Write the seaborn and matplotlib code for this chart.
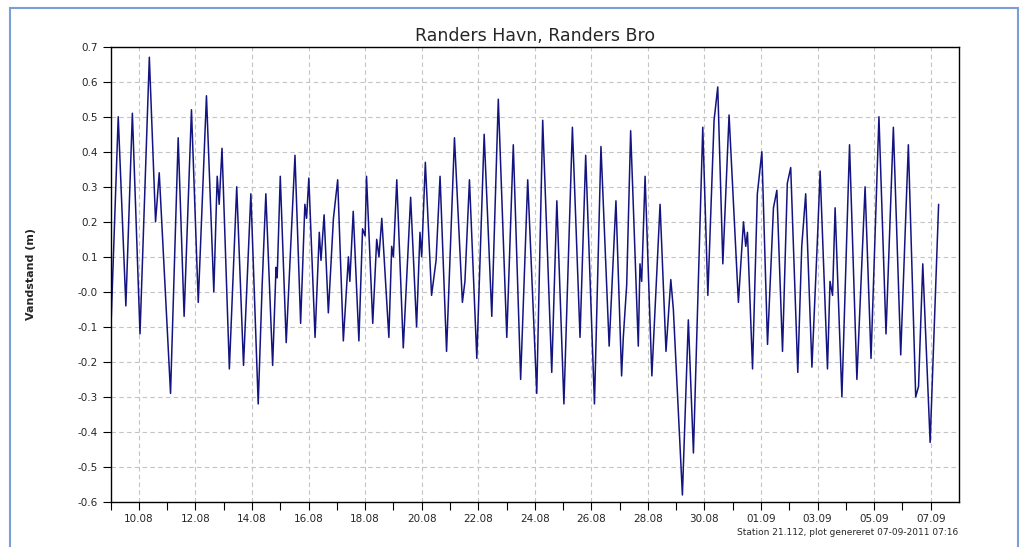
import pandas as pd
import matplotlib
matplotlib.use("Agg")
import matplotlib.pyplot as plt
import matplotlib.patches as mpatches
import seaborn as sns

# ---------------------------------------------
# Data (days after 09.08.2011 00:00, water level in m)
# ---------------------------------------------
start = pd.Timestamp("2011-08-09 00:00")

days = [0.00, 0.27, 0.54, 0.77, 1.04, 1.37, 1.59, 1.72, 2.12, 2.39, 2.60, 2.86, 3.10, 3.39,
        3.65, 3.77, 3.84, 3.94, 4.20, 4.46, 4.70, 4.96, 5.22, 5.36, 5.49, 5.73, 5.85, 5.89,
        6.00, 6.21, 6.52, 6.72, 6.87, 6.93, 7.01, 7.23, 7.38, 7.44,
        7.55, 7.70, 7.88, 8.03, 8.23, 8.41, 8.46, 8.58, 8.78, 8.91, 9.00, 9.05, 9.27, 9.41,
        9.49, 9.59, 9.84, 9.94, 10.00, 10.12, 10.35, 10.61, 10.82, 10.94, 11.00, 11.13, 11.35,
        11.51, 11.65, 11.88, 12.16, 12.44, 12.53, 12.69, 12.95, 13.21, 13.48, 13.71, 14.01,
        14.24, 14.50, 14.75, 15.07, 15.28,
        15.60, 15.78, 16.03, 16.33, 16.60, 16.80, 17.11, 17.34, 17.63, 17.87, 18.07, 18.13,
        18.25, 18.39, 18.66, 18.72, 18.78, 18.90, 19.14,
        19.43, 19.64, 19.81, 19.90, 20.22, 20.43, 20.61, 20.94, 21.12, 21.34, 21.47, 21.65,
        21.87, 22.20, 22.38, 22.46, 22.52, 22.70, 22.87, 23.03,
        23.23, 23.44, 23.56, 23.76, 23.93, 24.05, 24.30, 24.44, 24.58, 24.80, 25.00, 25.09,
        25.35, 25.44, 25.53, 25.62, 25.86, 26.13, 26.39, 26.68,
        26.89, 27.17, 27.42, 27.68, 27.94, 28.21, 28.47, 28.57, 28.72, 28.98, 29.28]

level = [-0.13, 0.50, -0.04, 0.51, -0.12, 0.67, 0.20, 0.34, -0.29, 0.44, -0.07, 0.52, -0.03, 0.56,
         0.00, 0.33, 0.25, 0.41, -0.22, 0.30, -0.21, 0.28, -0.32, 0.02, 0.28, -0.21, 0.07, 0.04,
         0.33, -0.145, 0.39, -0.09, 0.25, 0.21, 0.325, -0.13, 0.17, 0.09,
         0.22, -0.06, 0.21, 0.32, -0.14, 0.10, 0.03, 0.23, -0.14, 0.18, 0.16, 0.33, -0.09, 0.15,
         0.10, 0.21, -0.13, 0.13, 0.10, 0.32, -0.16, 0.27, -0.10, 0.17, 0.10, 0.37, -0.01,
         0.09, 0.33, -0.17, 0.44, -0.03, 0.03, 0.32, -0.19, 0.45, -0.07, 0.55, -0.13,
         0.42, -0.25, 0.32, -0.29, 0.49,
         -0.23, 0.26, -0.32, 0.47, -0.13, 0.39, -0.32, 0.415, -0.155, 0.26, -0.24, -0.13,
         0.02, 0.46, -0.155, 0.08, 0.03, 0.33, -0.24,
         0.25, -0.17, 0.035, -0.05, -0.58, -0.08, -0.46, 0.47, -0.01, 0.49, 0.585, 0.08,
         0.505, -0.03, 0.20, 0.13, 0.17, -0.22, 0.28, 0.40,
         -0.15, 0.24, 0.29, -0.17, 0.31, 0.355, -0.23, 0.13, 0.28, -0.215, 0.16, 0.345,
         -0.22, 0.03, -0.01, 0.24, -0.30, 0.42, -0.25, 0.30,
         -0.19, 0.50, -0.12, 0.47, -0.18, 0.42, -0.30, -0.27, 0.08, -0.43, 0.25]

ytick_values = [-0.6, -0.5, -0.4, -0.3, -0.2, -0.1, 0.0, 0.1, 0.2, 0.3, 0.4, 0.5, 0.6, 0.7]
ytick_labels = ["-0.6", "-0.5", "-0.4", "-0.3", "-0.2", "-0.1", "-0.0",
                "0.1", "0.2", "0.3", "0.4", "0.5", "0.6", "0.7"]

title = "Randers Havn, Randers Bro"
ylabel = "Vandstand (m)"
footer = "Station 21.112, plot genereret 07-09-2011 07:16"

df = pd.DataFrame({"time": start + pd.to_timedelta(days, unit="D"), "level": level})

# ---------------------------------------------
# Plot
# ---------------------------------------------
sns.set_style("white")
plt.rcParams['font.family'] = ['DejaVu Sans']

fig = plt.figure(figsize=(10.24, 5.47), dpi=100)
ax = fig.add_axes([0.108, 0.0823, 0.8285, 0.8323])

sns.lineplot(data=df, x="time", y="level", ax=ax, color="#141480", linewidth=1.1)

ax.set_xlim(start, start + pd.Timedelta(days=30))
ax.set_ylim(-0.6, 0.7)

major = pd.date_range("2011-08-10", "2011-09-07", freq="2D")
minor = pd.date_range("2011-08-09", "2011-09-07", freq="D")
ax.set_xticks(major)
ax.set_xticklabels([d.strftime("%d.%m") for d in major], fontsize=7.5)
ax.set_xticks(minor, minor=True)
ax.set_yticks(ytick_values)
ax.set_yticklabels(ytick_labels, fontsize=7.5)

ax.tick_params(axis="both", which="both", direction="out", length=6, width=0.8,
               color="black", pad=3, bottom=True, left=True)
ax.grid(True, which="major", color="#c4c4c4", linestyle=(0, (4, 3)), linewidth=0.8)

for s in ax.spines.values():
    s.set_color("black")
    s.set_linewidth(1.0)

ax.set_xlabel("")
ax.set_ylabel(ylabel, fontsize=8, fontweight="bold", labelpad=30)
ax.set_title(title, fontsize=12.5, pad=4)

fig.text(0.936, 0.018, footer, ha="right", va="bottom", fontsize=6.5)

# light blue frame round the chart
frame = mpatches.Rectangle((10 / 1024, -0.05), 1008 / 1024, 1.05 - 8 / 547,
                           transform=fig.transFigure, fill=False,
                           edgecolor="#7b9fd4", linewidth=1.5)
fig.patches.append(frame)

fig.savefig("out.png", dpi=100)
